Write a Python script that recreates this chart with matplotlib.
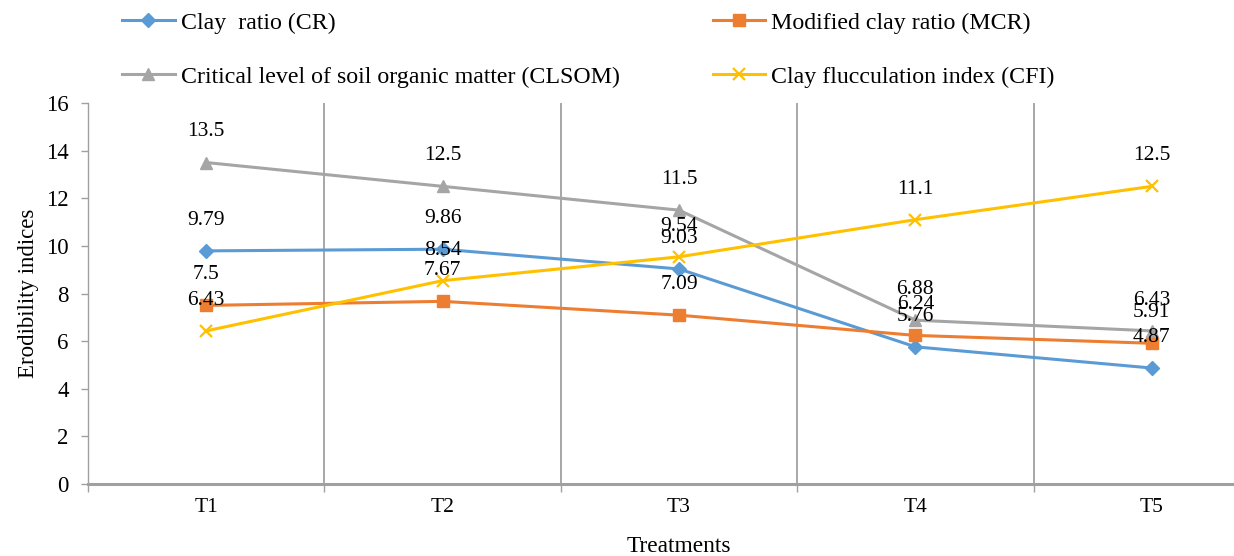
import matplotlib
matplotlib.use("Agg")
import matplotlib.pyplot as plt
from matplotlib.ticker import MultipleLocator

plt.rcParams['font.family'] = ['Liberation Serif', 'DejaVu Serif']

treatments = ["T1", "T2", "T3", "T4", "T5"]
cr = [9.79, 9.86, 9.03, 5.76, 4.87]
mcr = [7.5, 7.67, 7.09, 6.24, 5.91]
clsom = [13.5, 12.5, 11.5, 6.88, 6.43]
cfi = [6.43, 8.54, 9.54, 11.1, 12.5]

series = [
    ("Clay  ratio (CR)", cr, "#5B9BD5", "D", 7),
    ("Modified clay ratio (MCR)", mcr, "#ED7D31", "s", 8),
    ("Critical level of soil organic matter (CLSOM)", clsom, "#A5A5A5", "^", 9),
    ("Clay flucculation index (CFI)", cfi, "#FFC000", "x", 9),
]

dpi = 100
fig = plt.figure(figsize=(12.34, 5.56), dpi=dpi)
# plot area: left 88px, right edge beyond the canvas, top 103px, bottom 484px
W, H = 1234, 556
ax = fig.add_axes([88 / W, (H - 484) / H, (1270 - 88) / W, (484 - 103) / H])

x = list(range(len(treatments)))
handles = []
for name, vals, color, marker, ms in series:
    mew = 1.6 if marker == "x" else 1.0
    h, = ax.plot(x, vals, color=color, lw=2.2, marker=marker, ms=ms,
                 mec=color, mfc=color, mew=mew, label=name, zorder=3)
    handles.append(h)
    for xi, v in zip(x, vals):
        ax.annotate(f"{v:g}", (xi, v), xytext=(0, 22), textcoords="offset points",
                    ha="center", va="center", fontsize=15.5, color="black", zorder=4)

ax.set_xlim(-0.5, 4.5)
ax.set_ylim(0, 16)
ax.yaxis.set_major_locator(MultipleLocator(2))
ax.set_xticks(x)
ax.set_xticklabels(treatments)
ax.set_xticks([i + 0.5 for i in range(-1, 5)], minor=True)
ax.tick_params(axis="x", which="major", length=0, pad=10, labelsize=15.5)
ax.tick_params(axis="x", which="minor", length=6, width=1, color="#A0A0A0", direction="out")
ax.tick_params(axis="y", which="major", length=5, width=1, color="#A0A0A0", labelsize=16.5, pad=9)

for xb in [0.5, 1.5, 2.5, 3.5]:
    ax.axvline(xb, color="#A0A0A0", lw=1.3, zorder=1)

for s in ["top", "right"]:
    ax.spines[s].set_visible(False)
ax.spines["left"].set_color("#A0A0A0")
ax.spines["left"].set_linewidth(1.0)
ax.spines["bottom"].set_color("#A0A0A0")
ax.spines["bottom"].set_linewidth(2.2)

ax.set_xlabel("Treatments", fontsize=16.8, labelpad=14)
ax.set_ylabel("Erodibility indices", fontsize=16.5, labelpad=5)

# two rows: CR | MCR on top, CLSOM | CFI below (legend fills column by column)
leg = fig.legend(handles=[handles[0], handles[2], handles[1], handles[3]],
                 ncol=2, loc="upper left", bbox_to_anchor=(122 / W, 1 - 12 / H),
                 frameon=False, fontsize=17.2, handlelength=2.2, handletextpad=0.25,
                 columnspacing=3.9, labelspacing=1.35, borderaxespad=0.0,
                 borderpad=0.0)

fig.savefig("out.png", dpi=dpi)
